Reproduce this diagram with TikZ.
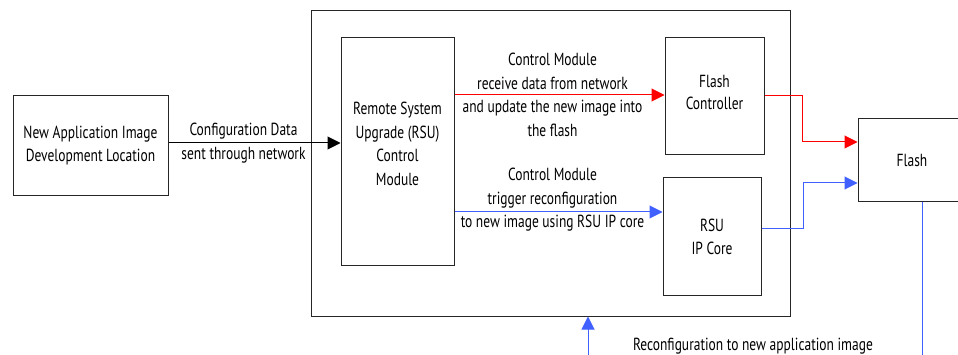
\documentclass[tikz,border=0pt]{standalone}
\usepackage{fontspec}
\setmainfont{PT Sans}[FakeStretch=0.77]
\usetikzlibrary{arrows.meta}
\definecolor{rline}{RGB}{255,0,0}
\definecolor{bline}{RGB}{64,96,255}
\begin{document}
\begin{tikzpicture}[x=1pt,y=-1pt,
  box/.style={draw=black!85,line width=1pt,inner sep=0pt,align=center,font=\fontsize{17.5}{23}\selectfont},
  lbl/.style={align=center,inner sep=0pt,font=\fontsize{17.5}{23.5}\selectfont},
  red/.style={draw=rline,line width=1pt},
  blu/.style={draw=bline,line width=1pt}]
\useasboundingbox (0,0) rectangle (958,355);
\node[box,minimum width=479pt,minimum height=305pt] (outer) at (550.5,163.5) {};
\node[box,minimum width=155pt,minimum height=100pt] (newapp) at (90.5,145.5) {New Application Image\\Development Location};
\node[box,minimum width=113pt,minimum height=228pt] (ctrl) at (397.5,152) {};
\node[lbl] at ([yshift=8pt]ctrl.center) {Remote System\\Upgrade (RSU)\\Control\\Module};
\node[box,minimum width=99pt,minimum height=117pt] (fc) at (714.5,96.5) {};
\node[lbl,font=\fontsize{17.5}{22}\selectfont] at ([yshift=4pt]fc.center) {Flash\\Controller};
\node[box,minimum width=98pt,minimum height=117pt] (ip) at (712,236.5) {RSU\\IP Core};
\node[box,minimum width=108pt,minimum height=83pt] (flash) at (912,160.5) {Flash};
\coordinate (bot) at (588,362);
\coordinate (bot2) at (922,362);
% config data
\draw[line width=1pt,-{Triangle[length=13pt,width=13pt]}] ([yshift=2.5pt]newapp.east) -- ([yshift=2.5pt]newapp.east -| ctrl.west)
  node[lbl,midway,xshift=-11pt] {Configuration Data\\sent through network};
% red
\draw[red,-{Triangle[length=13pt,width=13pt]}] ([yshift=1.5pt]fc.west -| ctrl.east) -- ([yshift=1.5pt]fc.west)
  node[lbl,midway,xshift=-7pt] {Control Module\\receive data from network\\and update the new image into\\the flash};
\draw[red,-{Triangle[length=13pt,width=13pt]}] ([yshift=0.5pt]fc.east) -- ++(38,0) |- ([yshift=18.5pt]flash.west);
% blue
\draw[blu,-{Triangle[length=13pt,width=13pt]}] ([yshift=24.5pt]ip.west -| ctrl.east) -- ([yshift=24.5pt]ip.west)
  node[lbl,midway,xshift=-6pt,yshift=12pt] {Control Module\\trigger reconfiguration\\to new image using RSU IP core};
\draw[blu,-{Triangle[length=13pt,width=13pt]}] ([yshift=7.5pt]ip.east) -- ++(42,0) |- ([yshift=-22.5pt]flash.west);
\draw[blu] (flash.south -| bot2) -- (bot2);
\draw[blu,-{Triangle[length=13pt,width=13pt]}] (bot) -- (bot |- outer.south);
\node[lbl] (reconf) at (753,346) {Reconfiguration to new application image};
\end{tikzpicture}
\end{document}
